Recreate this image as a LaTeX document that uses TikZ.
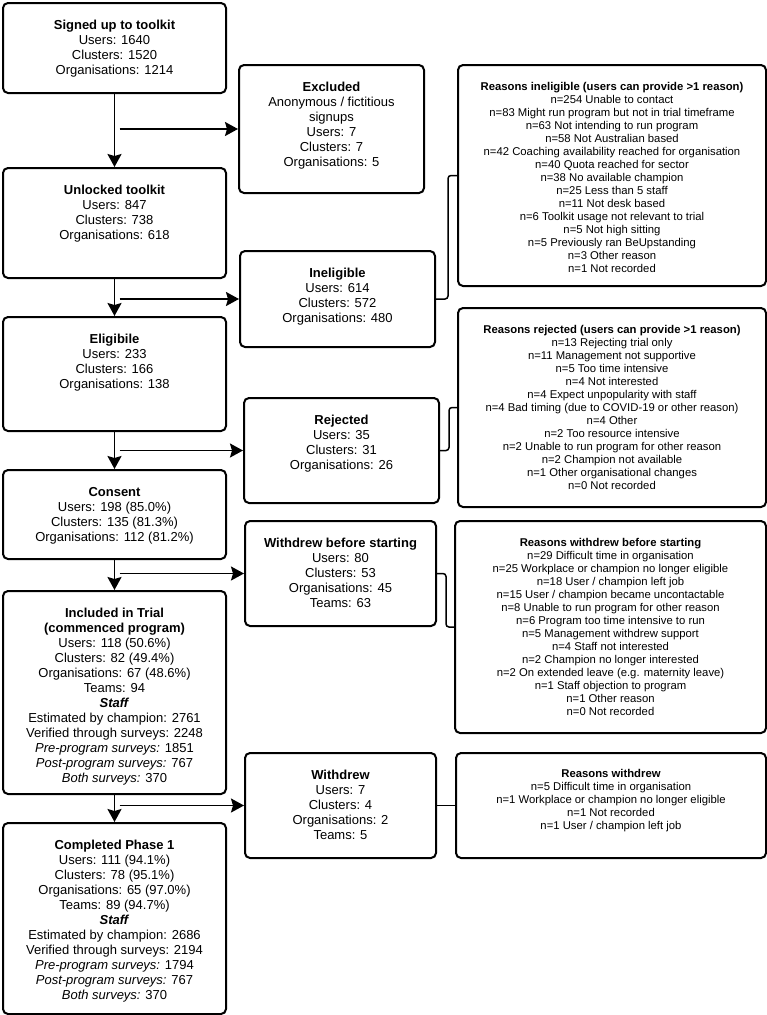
\documentclass[tikz,border=0pt]{standalone}
\usepackage{fontspec}
\setmainfont{Liberation Sans}
\usetikzlibrary{arrows.meta,calc}
\tikzset{
  box/.style={draw, rounded corners=5pt, line width=2pt, inner sep=0pt, anchor=north west},
  mtxt/.style={align=center, inner sep=0pt, anchor=north, font=\fontsize{13}{15}\selectfont},
  rtxt/.style={align=center, inner sep=0pt, anchor=north, font=\fontsize{11.3}{13}\selectfont},
  flow/.style={line width=1.8pt, -{Stealth[length=13pt,width=14pt,inset=2pt]}},
  link/.style={line width=1.5pt, rounded corners=3pt}
}
\begin{document}
\begin{tikzpicture}[x=1pt,y=-1pt]
\useasboundingbox (0,0) rectangle (767,1015);
% main column
\node[box, minimum width=223pt, minimum height=90pt] (signed) at (2,2) {};
\node[box, minimum width=223pt, minimum height=110pt] (unlocked) at (2,167) {};
\node[box, minimum width=223pt, minimum height=114pt] (eligible) at (2,316) {};
\node[box, minimum width=223pt, minimum height=89pt] (consent) at (2,469) {};
\node[box, minimum width=223pt, minimum height=203pt] (included) at (2,590) {};
\node[box, minimum width=223pt, minimum height=191pt] (completed) at (2,822) {};
% middle column
\node[box, minimum width=185pt, minimum height=128pt] (excluded) at (238,64) {};
\node[box, minimum width=195pt, minimum height=96pt] (inelig) at (239,250) {};
\node[box, minimum width=195pt, minimum height=105pt] (rejected) at (243,397) {};
\node[box, minimum width=191pt, minimum height=105pt] (wbs) at (244,520) {};
\node[box, minimum width=191pt, minimum height=105pt] (withdrew) at (244,752) {};
% reasons column
\node[box, minimum width=308pt, minimum height=221pt] (rinelig) at (457,64) {};
\node[box, minimum width=308pt, minimum height=199pt] (rrejected) at (457,307) {};
\node[box, minimum width=311pt, minimum height=212pt] (rwbs) at (454,520) {};
\node[box, minimum width=310pt, minimum height=105pt] (rwithdrew) at (455,752) {};

% texts main
\node[mtxt] (signed-t) at ([yshift=-18pt]signed.north) {\textbf{Signed up to toolkit}\\Users: 1640\\Clusters: 1520\\Organisations: 1214};
\node[mtxt] (unlocked-t) at ([yshift=-18pt]unlocked.north) {\textbf{Unlocked toolkit}\\Users: 847\\Clusters: 738\\Organisations: 618};
\node[mtxt] (eligible-t) at ([yshift=-18pt]eligible.north) {\textbf{Eligibile}\\Users: 233\\Clusters: 166\\Organisations: 138};
\node[mtxt] (consent-t) at ([yshift=-18pt]consent.north) {\textbf{Consent}\\Users: 198 (85.0\%)\\Clusters: 135 (81.3\%)\\Organisations: 112 (81.2\%)};
\node[mtxt] (included-t) at ([yshift=-18pt]included.north) {\textbf{Included in Trial}\\\textbf{(commenced program)}\\Users: 118 (50.6\%)\\Clusters: 82 (49.4\%)\\Organisations: 67 (48.6\%)\\Teams: 94\\\textbf{\textit{Staff}}\\Estimated by champion: 2761\\Verified through surveys: 2248\\\textit{Pre-program surveys:} 1851\\\textit{Post-program surveys:} 767\\\textit{Both surveys:} 370};
\node[mtxt] (completed-t) at ([yshift=-18pt]completed.north) {\textbf{Completed Phase 1}\\Users: 111 (94.1\%)\\Clusters: 78 (95.1\%)\\Organisations: 65 (97.0\%)\\Teams: 89 (94.7\%)\\\textbf{\textit{Staff}}\\Estimated by champion: 2686\\Verified through surveys: 2194\\\textit{Pre-program surveys:} 1794\\\textit{Post-program surveys:} 767\\\textit{Both surveys:} 370};
% texts middle
\node[mtxt] (excluded-t) at ([yshift=-18pt]excluded.north) {\textbf{Excluded}\\Anonymous / fictitious\\signups\\Users: 7\\Clusters: 7\\Organisations: 5};
\node[mtxt] (inelig-t) at ([yshift=-18pt]inelig.north) {\textbf{Ineligible}\\Users: 614\\Clusters: 572\\Organisations: 480};
\node[mtxt] (rejected-t) at ([yshift=-18pt]rejected.north) {\textbf{Rejected}\\Users: 35\\Clusters: 31\\Organisations: 26};
\node[mtxt] (wbs-t) at ([yshift=-18pt]wbs.north) {\textbf{Withdrew before starting}\\Users: 80\\Clusters: 53\\Organisations: 45\\Teams: 63};
\node[mtxt] (withdrew-t) at ([yshift=-18pt]withdrew.north) {\textbf{Withdrew}\\Users: 7\\Clusters: 4\\Organisations: 2\\Teams: 5};
% texts reasons
\node[rtxt] (rinelig-t) at ([yshift=-18.5pt]rinelig.north) {\textbf{Reasons ineligible (users can provide >1 reason)}\\n=254 Unable to contact\\n=83 Might run program but not in trial timeframe\\n=63 Not intending to run program\\n=58 Not Australian based\\n=42 Coaching availability reached for organisation\\n=40 Quota reached for sector\\n=38 No available champion\\n=25 Less than 5 staff\\n=11 Not desk based\\n=6 Toolkit usage not relevant to trial\\n=5 Not high sitting\\n=5 Previously ran BeUpstanding\\n=3 Other reason\\n=1 Not recorded};
\node[rtxt] (rrejected-t) at ([yshift=-18.5pt]rrejected.north) {\textbf{Reasons rejected (users can provide >1 reason)}\\n=13 Rejecting trial only\\n=11 Management not supportive\\n=5 Too time intensive\\n=4 Not interested\\n=4 Expect unpopularity with staff\\n=4 Bad timing (due to COVID-19 or other reason)\\n=4 Other\\n=2 Too resource intensive\\n=2 Unable to run program for other reason\\n=2 Champion not available\\n=1 Other organisational changes\\n=0 Not recorded};
\node[rtxt] (rwbs-t) at ([yshift=-18pt]rwbs.north) {\textbf{Reasons withdrew before starting}\\n=29 Difficult time in organisation\\n=25 Workplace or champion no longer eligible\\n=18 User / champion left job\\n=15 User / champion became uncontactable\\n=8 Unable to run program for other reason\\n=6 Program too time intensive to run\\n=5 Management withdrew support\\n=4 Staff not interested\\n=2 Champion no longer interested\\n=2 On extended leave (e.g. maternity leave)\\n=1 Staff objection to program\\n=1 Other reason\\n=0 Not recorded};
\node[rtxt] (rwithdrew-t) at ([yshift=-17pt]rwithdrew.north) {\textbf{Reasons withdrew}\\n=5 Difficult time in organisation\\n=1 Workplace or champion no longer eligible\\n=1 Not recorded\\n=1 User / champion left job};

% main flow arrows
\draw[flow] (signed.south) -- (unlocked.north);
\draw[flow] (unlocked.south) -- (eligible.north);
\draw[flow] (eligible.south) -- (consent.north);
\draw[flow] (consent.south) -- (included.north);
\draw[flow] (included.south) -- (completed.north);
% branch arrows
\coordinate (b1) at ($(excluded.west -| signed.south)+(5,0)$);
\coordinate (b2) at ($(inelig.west -| signed.south)+(5,0)$);
\coordinate (b3) at ($(rejected.west -| signed.south)+(5,0)$);
\coordinate (b4) at ($(wbs.west -| signed.south)+(5,0)$);
\coordinate (b5) at ($(withdrew.west -| signed.south)+(5,0)$);
\draw[flow] (b1) -- (excluded.west);
\draw[flow] (b2) -- (inelig.west);
\draw[flow] (b3) -- (rejected.west);
\draw[flow] (b4) -- (wbs.west);
\draw[flow] (b5) -- (withdrew.west);
% reason links
\draw[link] (inelig.east) -- ++(12,0) |- (rinelig.west);
\draw[link] (rejected.east) -- ++(9,0) |- (rrejected.west);
\draw[link] (wbs.east) -- ++(9,0) |- (rwbs.west);
\draw[link] (withdrew.east) -- (rwithdrew.west);
\end{tikzpicture}
\end{document}
